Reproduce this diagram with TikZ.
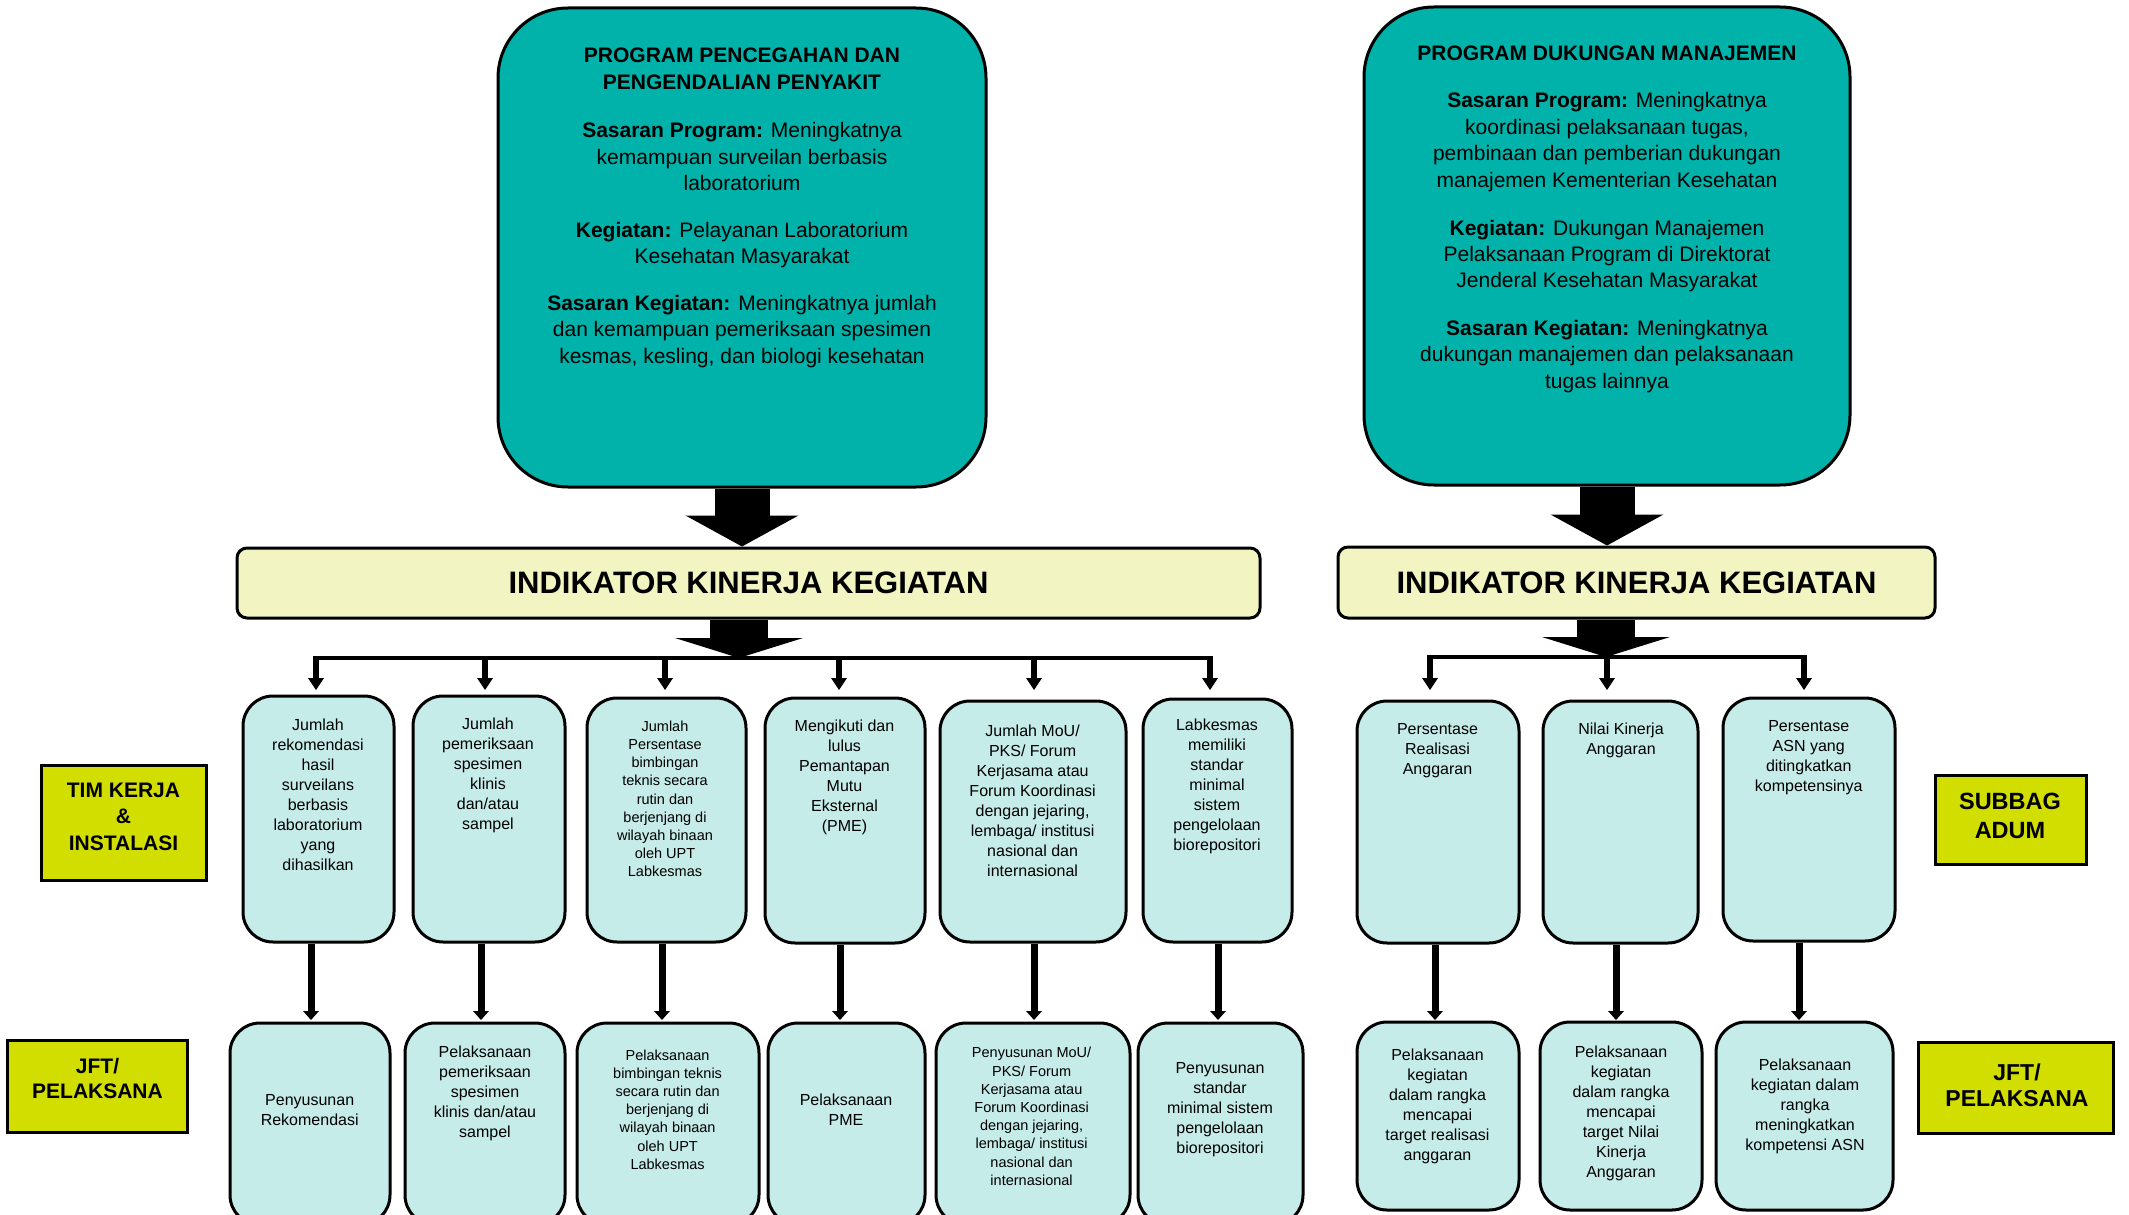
\documentclass[tikz,border=0pt]{standalone}
\usepackage{fontspec}
\setmainfont{Liberation Sans}
\usetikzlibrary{arrows.meta,calc}
\definecolor{tealbox}{RGB}{0,178,169}
\definecolor{cyanbox}{RGB}{198,236,233}
\definecolor{indbg}{RGB}{242,245,193}
\definecolor{labbg}{RGB}{210,222,0}
\newcommand{\myfs}[2]{\fontsize{#1}{#2}\selectfont}
\begin{document}
\begin{tikzpicture}[x=1pt,y=-1pt,
  progbox/.style={draw, line width=3pt, fill=tealbox, rounded corners=70pt, inner sep=0pt},
  indbox/.style={draw, line width=3pt, fill=indbg, rounded corners=10pt, inner sep=0pt, font=\bfseries\myfs{31}{37}},
  kbox/.style={draw, line width=3pt, fill=cyanbox, rounded corners=30pt, inner sep=0pt},
  labbox/.style={draw, line width=3pt, fill=labbg, inner sep=0pt},
  txt/.style={align=center, inner sep=0pt},
  tA/.style={txt, font=\myfs{16}{20}},
  tB/.style={txt, font=\myfs{14.5}{18.2}},
  bigA/.style={line width=55pt, -{Triangle[width=113pt,length=31pt,line width=0pt]}},
  bigB/.style={line width=58pt, -{Triangle[width=128pt,length=20pt,line width=0pt]}},
  smallarr/.style={line width=6pt, -{Triangle[width=16pt,length=12pt,line width=0pt]}},
  midarr/.style={line width=7pt, -{Triangle[width=16pt,length=9pt,line width=0pt]}},
  busline/.style={line width=4pt}
]
\useasboundingbox (0,0) rectangle (2129,1215);
\begin{scope}
\clip (0,0) rectangle (2129,1215);

% ---------- top program boxes ----------
\node[progbox, minimum width=488pt, minimum height=479pt] (p1) at (742,247.5) {};
\node[progbox, minimum width=486pt, minimum height=478pt] (p2) at (1607,246) {};

\node[txt, font=\bfseries\myfs{21}{27}] (p1t) at (742,68.5) {PROGRAM PENCEGAHAN DAN\\PENGENDALIAN PENYAKIT};
\node[txt, font=\myfs{21}{26.5}] (p1a) at (742,156.5) {\textbf{Sasaran Program:} Meningkatnya\\kemampuan surveilan berbasis\\laboratorium};
\node[txt, font=\myfs{21}{26.5}] (p1b) at (742,245) {\textbf{Kegiatan:} Pelayanan Laboratorium\\Kesehatan Masyarakat};
\node[txt, font=\myfs{21}{26.5}] (p1c) at (742,331.5) {\textbf{Sasaran Kegiatan:} Meningkatnya jumlah\\dan kemampuan pemeriksaan spesimen\\kesmas, kesling, dan biologi kesehatan};

\node[txt, font=\bfseries\myfs{21}{27}] (p2t) at (1607,53) {PROGRAM DUKUNGAN MANAJEMEN};
\node[txt, font=\myfs{21}{26.4}] (p2a) at (1607,142) {\textbf{Sasaran Program:} Meningkatnya\\koordinasi pelaksanaan tugas,\\pembinaan dan pemberian dukungan\\manajemen Kementerian Kesehatan};
\node[txt, font=\myfs{21}{26.4}] (p2b) at (1607,256) {\textbf{Kegiatan:} Dukungan Manajemen\\Pelaksanaan Program di Direktorat\\Jenderal Kesehatan Masyarakat};
\node[txt, font=\myfs{21}{26.4}] (p2c) at (1607,356.5) {\textbf{Sasaran Kegiatan:} Meningkatnya\\dukungan manajemen dan pelaksanaan\\tugas lainnya};

% ---------- indikator boxes ----------
\node[indbox, minimum width=1023pt, minimum height=70pt] (i1) at (748.5,583) {INDIKATOR KINERJA KEGIATAN};
\node[indbox, minimum width=597pt, minimum height=71pt] (i2) at (1636.5,582.5) {INDIKATOR KINERJA KEGIATAN};

% ---------- big arrows ----------
\draw[bigA] (p1.south) -- (p1.south |- i1.north);
\draw[bigA] (p2.south) -- (p2.south |- i2.north);

\coordinate (busL) at (739,658);
\coordinate (busR) at (1606,657);
\draw[bigB] (i1.south -| busL) -- (busL);
\draw[bigB] (i2.south -| busR) -- (busR);

% ---------- middle boxes ----------
\node[kbox, minimum width=151pt, minimum height=246pt] (m1) at (318.5,819) {};
\node[kbox, minimum width=152pt, minimum height=246pt] (m2) at (489,819) {};
\node[kbox, minimum width=159pt, minimum height=244pt] (m3) at (666.5,820) {};
\node[kbox, minimum width=160pt, minimum height=245pt] (m4) at (845,820.5) {};
\node[kbox, minimum width=186pt, minimum height=241pt] (m5) at (1033,821.5) {};
\node[kbox, minimum width=149pt, minimum height=243pt] (m6) at (1217.5,820.5) {};
\node[kbox, minimum width=162pt, minimum height=242pt] (m7) at (1438,822) {};
\node[kbox, minimum width=155pt, minimum height=242pt] (m8) at (1620.5,822) {};
\node[kbox, minimum width=172pt, minimum height=243pt] (m9) at (1809,819.5) {};

\node[tA] (m1t) at (318,794.5) {Jumlah\\rekomendasi\\hasil\\surveilans\\berbasis\\laboratorium\\yang\\dihasilkan};
\node[tA] (m2t) at (488,775) {Jumlah\\pemeriksaan\\spesimen\\klinis\\dan/atau\\sampel};
\node[tB] (m3t) at (665,799) {Jumlah\\Persentase\\bimbingan\\teknis secara\\rutin dan\\berjenjang di\\wilayah binaan\\oleh UPT\\Labkesmas};
\node[tA] (m4t) at (844.5,777.5) {Mengikuti dan\\lulus\\Pemantapan\\Mutu\\Eksternal\\(PME)};
\node[tA] (m5t) at (1032.6,800.5) {Jumlah MoU/\\PKS/ Forum\\Kerjasama atau\\Forum Koordinasi\\dengan jejaring,\\lembaga/ institusi\\nasional dan\\internasional};
\node[tA] (m6t) at (1217,786.5) {Labkesmas\\memiliki\\standar\\minimal\\sistem\\pengelolaan\\biorepositori};
\node[tA] (m7t) at (1437.5,750.5) {Persentase\\Realisasi\\Anggaran};
\node[tA] (m8t) at (1621,740) {Nilai Kinerja\\Anggaran};
\node[tA] (m9t) at (1808.7,757.5) {Persentase\\ASN yang\\ditingkatkan\\kompetensinya};

% ---------- bottom boxes ----------
\node[kbox, minimum width=160pt, minimum height=202pt] (b1) at (310,1124) {};
\node[kbox, minimum width=160pt, minimum height=202pt] (b2) at (485,1124) {};
\node[kbox, minimum width=182pt, minimum height=202pt] (b3) at (668,1124) {};
\node[kbox, minimum width=157pt, minimum height=202pt] (b4) at (846.5,1124) {};
\node[kbox, minimum width=194pt, minimum height=202pt] (b5) at (1033,1124) {};
\node[kbox, minimum width=165pt, minimum height=202pt] (b6) at (1220.5,1124) {};
\node[kbox, minimum width=162pt, minimum height=188pt] (b7) at (1438,1116) {};
\node[kbox, minimum width=162pt, minimum height=188pt] (b8) at (1621,1116) {};
\node[kbox, minimum width=177pt, minimum height=188pt] (b9) at (1804.5,1116) {};

\node[tA] (b1t) at (309.7,1110) {Penyusunan\\Rekomendasi};
\node[tA] (b2t) at (485,1093) {Pelaksanaan\\pemeriksaan\\spesimen\\klinis dan/atau\\sampel};
\node[tB] (b3t) at (667.6,1109.5) {Pelaksanaan\\bimbingan teknis\\secara rutin dan\\berjenjang di\\wilayah binaan\\oleh UPT\\Labkesmas};
\node[tA] (b4t) at (846,1110) {Pelaksanaan\\PME};
\node[tB] (b5t) at (1031.6,1116.5) {Penyusunan MoU/\\PKS/ Forum\\Kerjasama atau\\Forum Koordinasi\\dengan jejaring,\\lembaga/ institusi\\nasional dan\\internasional};
\node[tA] (b6t) at (1220,1110) {Penyusunan\\standar\\minimal sistem\\pengelolaan\\biorepositori};
\node[tA] (b7t) at (1437.5,1106.5) {Pelaksanaan\\kegiatan\\dalam rangka\\mencapai\\target realisasi\\anggaran};
\node[tA] (b8t) at (1621,1113) {Pelaksanaan\\kegiatan\\dalam rangka\\mencapai\\target Nilai\\Kinerja\\Anggaran};
\node[tA] (b9t) at (1805,1106.5) {Pelaksanaan\\kegiatan dalam\\rangka\\meningkatkan\\kompetensi ASN};

% ---------- bus lines and small arrows ----------
\coordinate (t1) at (316,690);
\coordinate (t2) at (485,690);
\coordinate (t3) at (665,690);
\coordinate (t4) at (839,690);
\coordinate (t5) at (1034,690);
\coordinate (t6) at (1210,690);
\coordinate (t7) at (1430,690);
\coordinate (t8) at (1607,690);
\coordinate (t9) at (1804,690);

\draw[busline] ($(t1 |- busL)+(-3,0)$) -- ($(t6 |- busL)+(3,0)$);
\draw[busline] ($(t7 |- busR)+(-3,0)$) -- ($(t9 |- busR)+(3,0)$);
\foreach \k in {1,...,6} {\draw[smallarr] ($(t\k |- busL)+(0,-2)$) -- (t\k);}
\foreach \k in {7,8,9} {\draw[smallarr] ($(t\k |- busR)+(0,-2)$) -- (t\k);}

% ---------- middle to bottom arrows ----------
\coordinate (d1) at (311,1020);
\coordinate (d2) at (481,1020);
\coordinate (d3) at (662,1020);
\coordinate (d4) at (840,1020);
\coordinate (d5) at (1034,1020);
\coordinate (d6) at (1218,1020);
\coordinate (d7) at (1435,1020);
\coordinate (d8) at (1616,1020);
\coordinate (d9) at (1799,1020);
\foreach \k in {1,...,9} {\draw[midarr] (m\k.south -| d\k) -- (d\k);}

% ---------- side labels ----------
\node[labbox, minimum width=165pt, minimum height=115pt] (L1) at (123.5,822.5) {};
\node[txt, font=\bfseries\myfs{21}{26.5}] (L1t) at (123.5,816.5) {TIM KERJA\\\&\\INSTALASI};
\node[labbox, minimum width=151pt, minimum height=89pt] (L2) at (2010.5,819.5) {};
\node[txt, font=\bfseries\myfs{23.5}{29}] (L2t) at (2010,815.5) {SUBBAG\\ADUM};
\node[labbox, minimum width=180pt, minimum height=92pt] (L3) at (97,1086) {};
\node[txt, font=\bfseries\myfs{21}{25}] (L3t) at (97.5,1078.5) {JFT/\\PELAKSANA};
\node[labbox, minimum width=195pt, minimum height=91pt] (L4) at (2015.5,1087.5) {};
\node[txt, font=\bfseries\myfs{23}{26}] (L4t) at (2017,1085) {JFT/\\PELAKSANA};
\end{scope}
\end{tikzpicture}
\end{document}
